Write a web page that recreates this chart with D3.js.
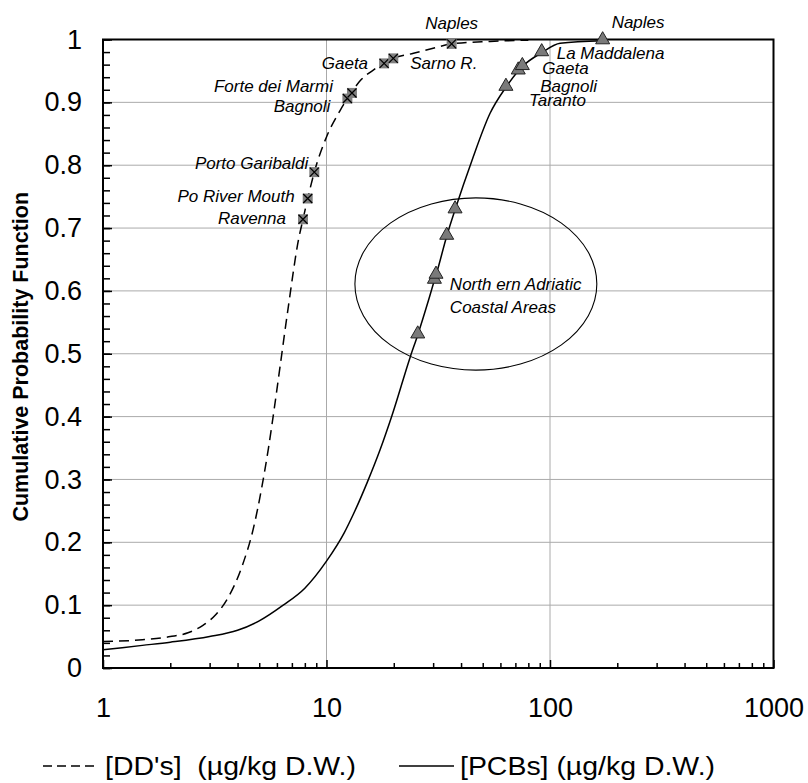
<!DOCTYPE html>
<html><head><meta charset="utf-8">
<script src="https://cdn.jsdelivr.net/npm/d3@7"></script>
<style>
html,body{margin:0;padding:0;background:#fff;}
text{font-family:Arial,"Liberation Sans",sans-serif;fill:#000;}
</style></head>
<body><svg id="c" width="808" height="783"></svg>
<script>
// ---------- data ----------
const xTicks = [1, 10, 100, 1000];
const yTicks = [0, 0.1, 0.2, 0.3, 0.4, 0.5, 0.6, 0.7, 0.8, 0.9, 1];

const ddtCurveX = [1, 1.5, 2, 2.4, 2.8, 3.2, 3.6, 4.2, 4.7, 5.15, 5.5, 5.85, 6.2, 6.75, 7.5, 7.85, 8.24, 8.82, 10, 11.5, 12.4, 13.0, 14.2, 16.3, 18.1, 19.9, 24.5, 30, 36.3, 54, 80];
const ddtCurveY = [0.042, 0.045, 0.05, 0.056, 0.068, 0.085, 0.11, 0.163, 0.221, 0.29, 0.35, 0.415, 0.48, 0.575, 0.682, 0.714, 0.747, 0.789, 0.845, 0.887, 0.906, 0.917, 0.935, 0.952, 0.962, 0.970, 0.978, 0.986, 0.993, 0.997, 0.999];

const pcbCurveX = [1, 1.5, 2, 3, 4, 5, 6.4, 8, 10, 12, 13.2, 15.2, 17.4, 19.6, 23.7, 25.6, 28.6, 30.4, 30.9, 34.5, 37.6, 44.8, 54, 63.5, 72.1, 75.2, 91.8, 111, 172];
const pcbCurveY = [0.029, 0.036, 0.041, 0.05, 0.06, 0.075, 0.1, 0.127, 0.17, 0.215, 0.245, 0.295, 0.348, 0.401, 0.495, 0.530, 0.585, 0.617, 0.625, 0.687, 0.729, 0.808, 0.883, 0.924, 0.950, 0.957, 0.979, 0.994, 0.998];

const ddtSites = ["Ravenna", "Po River Mouth", "Porto Garibaldi", "Bagnoli", "Forte dei Marmi", "Gaeta", "Sarno R.", "Naples"];
const ddtSiteX = [7.85, 8.24, 8.82, 12.4, 13.0, 18.1, 19.9, 36.3];
const ddtSiteY = [0.714, 0.747, 0.789, 0.906, 0.915, 0.962, 0.970, 0.993];

const pcbSites = ["", "", "", "", "", "Taranto", "Bagnoli", "Gaeta", "La Maddalena", "Naples"];
const pcbSiteX = [25.6, 30.4, 30.9, 34.5, 37.6, 63.5, 72.1, 75.2, 91.8, 172];
const pcbSiteY = [0.530, 0.617, 0.625, 0.687, 0.729, 0.924, 0.950, 0.957, 0.979, 0.998];

const groupX = [13.4, 162];      // ellipse extent (concentration)
const groupY = [0.474, 0.748];   // ellipse extent (probability)
const groupLabel = ["North ern Adriatic", "Coastal Areas"];

const yTitle = "Cumulative Probability Function";
const legendLabels = ["[DD's]  (\u00b5g/kg D.W.)", "[PCBs] (\u00b5g/kg D.W.)"];

// ---------- layout ----------
const svg = d3.select("#c");
const L = 103, R = 773.5, T = 39.5, B = 668;
const x = d3.scaleLog().domain([1, 1000]).range([L, R]);
const y = d3.scaleLinear().domain([0, 1]).range([B, T]);

// gridlines
svg.append("g").selectAll("line").data(yTicks.filter(v => v > 0 && v < 1)).join("line")
  .attr("x1", L).attr("x2", R).attr("y1", d => y(d)).attr("y2", d => y(d))
  .attr("stroke", "#aaaaaa").attr("stroke-width", 1);
svg.append("g").selectAll("line").data(xTicks.filter(v => v > 1 && v < 1000)).join("line")
  .attr("y1", T).attr("y2", B).attr("x1", d => x(d)).attr("x2", d => x(d))
  .attr("stroke", "#aaaaaa").attr("stroke-width", 1);

// ellipse annotation
const ex0 = x(groupX[0]), ex1 = x(groupX[1]), ey0 = y(groupY[1]), ey1 = y(groupY[0]);
svg.append("ellipse").attr("cx", (ex0 + ex1) / 2).attr("cy", (ey0 + ey1) / 2)
  .attr("rx", (ex1 - ex0) / 2).attr("ry", (ey1 - ey0) / 2)
  .attr("fill", "none").attr("stroke", "#000").attr("stroke-width", 1.1);
svg.append("g").selectAll("text").data(groupLabel).join("text")
  .attr("x", (ex0 + ex1) / 2 - 26).attr("y", (d, i) => (ey0 + ey1) / 2 + i * 23)
  .attr("dy", "0.35em").style("font-style", "italic").style("font-size", "17px").text(d => d);

// frame
svg.append("rect").attr("x", L).attr("y", T).attr("width", R - L).attr("height", B - T)
  .attr("fill", "none").attr("stroke", "#000").attr("stroke-width", 2);

// axes: y
const yMinor = d3.range(0, 1.0001, 0.02);
svg.append("g").attr("transform", `translate(${L},0)`)
  .call(d3.axisLeft(y).tickValues(yMinor).tickSizeInner(-7).tickSizeOuter(0).tickFormat(""))
  .call(g => g.select(".domain").remove())
  .call(g => g.selectAll("line").attr("stroke-width", 1.5));
svg.append("g").attr("transform", `translate(${L},0)`)
  .call(d3.axisLeft(y).tickValues(yTicks).tickSizeInner(-9).tickSizeOuter(0).tickPadding(21).tickFormat(d3.format("")))
  .call(g => g.select(".domain").remove())
  .call(g => g.attr("font-family", null))
  .call(g => g.selectAll("line").attr("stroke-width", 1.5))
  .call(g => g.selectAll("text").style("font-size", "27px"));

// axes: x
const xMinor = [];
[1, 10, 100].forEach(b => { for (let k = 2; k <= 9; k++) xMinor.push(b * k); });
svg.append("g").attr("transform", `translate(0,${B})`)
  .call(d3.axisBottom(x).tickValues(xMinor).tickSizeInner(-5).tickSizeOuter(0).tickFormat(""))
  .call(g => g.select(".domain").remove())
  .call(g => g.selectAll("line").attr("stroke-width", 1.5));
svg.append("g").attr("transform", `translate(0,${B})`)
  .call(d3.axisBottom(x).tickValues(xTicks).tickSizeInner(-8).tickSizeOuter(0).tickPadding(30).tickFormat(d3.format("")))
  .call(g => g.select(".domain").remove())
  .call(g => g.attr("font-family", null))
  .call(g => g.selectAll("line").attr("stroke-width", 1.5))
  .call(g => g.selectAll("text").style("font-size", "27px").attr("dy", "0.35em").attr("y", 40));

// y title
svg.append("text").attr("transform", `translate(28,${(T + B) / 2 + 3}) rotate(-90)`)
  .attr("text-anchor", "middle").style("font-weight", "bold").style("font-size", "21.5px").text(yTitle);

// curves
const line = d3.line().x(d => x(d[0])).y(d => y(d[1])).curve(d3.curveMonotoneX);
svg.append("path").datum(ddtCurveX.map((v, i) => [v, ddtCurveY[i]]))
  .attr("d", line).attr("fill", "none").attr("stroke", "#000").attr("stroke-width", 1.5)
  .attr("stroke-dasharray", "10,6");
svg.append("path").datum(pcbCurveX.map((v, i) => [v, pcbCurveY[i]]))
  .attr("d", line).attr("fill", "none").attr("stroke", "#000").attr("stroke-width", 1.5);

// DDT markers (square with cross)
const ddtG = svg.append("g").selectAll("g").data(ddtSites).join("g")
  .attr("transform", (d, i) => `translate(${x(ddtSiteX[i])},${y(ddtSiteY[i])})`);
ddtG.append("rect").attr("x", -5).attr("y", -5).attr("width", 10).attr("height", 10).attr("fill", "#808080");
ddtG.append("path").attr("d", "M-4.5,-4.5L4.5,4.5M-4.5,4.5L4.5,-4.5").attr("stroke", "#000").attr("stroke-width", 1.3);

// PCB markers (triangles)
svg.append("g").selectAll("path").data(pcbSites).join("path")
  .attr("d", d3.symbol(d3.symbolTriangle, 85))
  .attr("transform", (d, i) => `translate(${x(pcbSiteX[i])},${y(pcbSiteY[i]) - 1})`)
  .attr("fill", "#7a7a7a").attr("stroke", "#222").attr("stroke-width", 1);

// site labels
const ddtOff = [[-17, -1, "end"], [-13, -2, "end"], [-6, -9, "end"], [-17, 7, "end"], [-19, -7, "end"], [-16, 0, "end"], [17, 5, "start"], [0, -21, "middle"]];
svg.append("g").selectAll("text").data(ddtSites).join("text")
  .attr("x", (d, i) => x(ddtSiteX[i]) + ddtOff[i][0]).attr("y", (d, i) => y(ddtSiteY[i]) + ddtOff[i][1])
  .attr("text-anchor", (d, i) => ddtOff[i][2]).attr("dy", "0.35em")
  .style("font-style", "italic").style("font-size", "17px").text(d => d);
const pcbOff = [null, null, null, null, null, [23, 13], [22, 15], [20, 2], [15, 0], [9, -19]];
svg.append("g").selectAll("text").data(pcbSites.map((s, i) => i).filter(i => pcbSites[i])).join("text")
  .attr("x", i => x(pcbSiteX[i]) + pcbOff[i][0]).attr("y", i => y(pcbSiteY[i]) + pcbOff[i][1])
  .attr("dy", "0.35em").style("font-style", "italic").style("font-size", "17px").text(i => pcbSites[i]);

// legend
const lg = svg.append("g");
const legX = [43, 399], legW = 55, legTL = [251, 255];
legendLabels.forEach((t, i) => {
  lg.append("line").attr("x1", legX[i]).attr("x2", legX[i] + legW).attr("y1", 766).attr("y2", 766)
    .attr("stroke", "#000").attr("stroke-width", 1.5).attr("stroke-dasharray", i === 0 ? "9,5" : null);
  lg.append("text").attr("x", legX[i] + legW + (i === 0 ? 7 : 6)).attr("y", 766).attr("dy", "0.35em")
    .style("font-size", "26px").style("white-space", "pre")
    .attr("textLength", legTL[i]).attr("lengthAdjust", "spacingAndGlyphs").text(t);
});
</script></body></html>
